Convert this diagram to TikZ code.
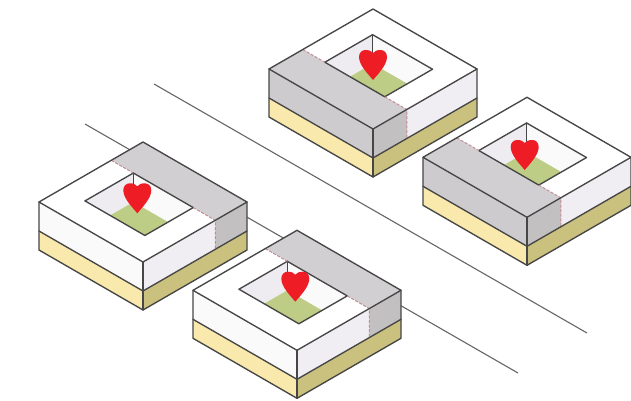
\documentclass[tikz,border=0pt]{standalone}
\definecolor{edgec}{HTML}{464646}
\definecolor{roadc}{HTML}{666666}
\definecolor{graytop}{HTML}{D2CFD2}
\definecolor{grayleft}{HTML}{CDCBCE}
\definecolor{grayright}{HTML}{C3C0C2}
\definecolor{whiteleft}{HTML}{FBFAFB}
\definecolor{whiteright}{HTML}{F0EEF2}
\definecolor{baseleft}{HTML}{F9E9AC}
\definecolor{baseright}{HTML}{CBC17F}
\definecolor{floorc}{HTML}{BDCD85}
\definecolor{wallback}{HTML}{EEECF1}
\definecolor{heartc}{HTML}{EE1C25}
\definecolor{dashc}{HTML}{C58C92}
\tikzset{
  edge/.style={draw=edgec,line width=1.35pt,line join=round,line cap=round},
  road/.style={draw=roadc,line width=1.1pt},
  seam/.style={draw=dashc,line width=1pt,dash pattern=on 3pt off 1.6pt},
  isoframe/.style={x={(104pt,-60pt)},y={(-104pt,-60pt)},z={(0pt,1pt)}}
}
% #1,#2 top corner; #3,#4 gray band v-range; #5 seam v; #6,#7 hole v-range; #8,#9 heart tip
\newcommand{\isoblock}[9]{%
\begin{scope}[shift={(#1pt,-#2pt)},isoframe]
  % base
  \fill[baseleft] (0,1,-29) -- (1,1,-29) -- (1,1,-48) -- (0,1,-48) -- cycle;
  \fill[baseright] (1,1,-29) -- (1,0,-29) -- (1,0,-48) -- (1,1,-48) -- cycle;
  % body faces
  \fill[whiteleft] (0,1,0) -- (1,1,0) -- (1,1,-29) -- (0,1,-29) -- cycle;
  \fill[whiteright] (1,1,0) -- (1,0,0) -- (1,0,-29) -- (1,1,-29) -- cycle;
  % top
  \fill[white] (0,0,0) -- (1,0,0) -- (1,1,0) -- (0,1,0) -- cycle;
  % gray band
  \fill[graytop] (0,#3,0) -- (1,#3,0) -- (1,#4,0) -- (0,#4,0) -- cycle;
  \fill[grayright] (1,#3,0) -- (1,#4,0) -- (1,#4,-29) -- (1,#3,-29) -- cycle;
  \ifdim #4pt>0.9pt
    \fill[grayleft] (0,1,0) -- (1,1,0) -- (1,1,-29) -- (0,1,-29) -- cycle;
  \fi
  % hole
  \fill[whiteleft] (0.212,#6,0) -- (0.788,#6,0) -- (0.788,#7,0) -- (0.212,#7,0) -- cycle;
  \begin{scope}
    \clip (0.212,#6,0) -- (0.788,#6,0) -- (0.788,#7,0) -- (0.212,#7,0) -- cycle;
    \fill[wallback] (0.212,#6,0) -- (0.212,#7,0) -- (0.212,#7,-29) -- (0.212,#6,-29) -- cycle;
    \fill[floorc] (0.212,#6,-29) -- (0.788,#6,-29) -- (0.788,#7,-29) -- (0.212,#7,-29) -- cycle;
  \end{scope}
  \path[edge] (0.212,#6,0) -- (0.212,#6,-29);
  \path[edge] (0.788,#6,0) -- (0.212,#6,0) -- (0.212,#7,0);
  \path[edge] (0.212,#7,0) -- (0.788,#7,0) -- (0.788,#6,0);
  % seams
  \path[seam] (0,#5,0) -- (0.212,#5,0);
  \path[seam] (0.788,#5,0) -- (1,#5,0) -- (1,#5,-29);
  % outlines
  \path[edge] (0,0,0) -- (1,0,0) -- (1,1,0) -- (0,1,0) -- cycle;
  \path[edge] (0,1,0) -- (0,1,-48) -- (1,1,-48) -- (1,0,-48) -- (1,0,0);
  \path[edge] (1,1,0) -- (1,1,-48);
  \path[edge] (0,1,-29) -- (1,1,-29) -- (1,0,-29);
\end{scope}
\begin{scope}[shift={(#8pt,-#9pt)},x=1pt,y=1pt]
  \fill[heartc] (0,0)
    .. controls (-5,6) and (-14,15) .. (-14,23)
    .. controls (-14,27.5) and (-11,30) .. (-7.5,30)
    .. controls (-4,30) and (-1.5,29) .. (0,27)
    .. controls (1.5,29) and (4,30) .. (7.5,30)
    .. controls (11,30) and (14,27.5) .. (14,23)
    .. controls (14,15) and (5,6) .. (0,0) -- cycle;
\end{scope}
}
\begin{document}
\begin{tikzpicture}
\useasboundingbox (0pt,-401pt) rectangle (631pt,0pt);
\coordinate (r1a) at (85pt,-124pt);
\coordinate (r1b) at (518pt,-373pt);
\coordinate (r2a) at (154pt,-84pt);
\coordinate (r2b) at (587pt,-333pt);
\path[road] (r1a) -- (r1b);
\path[road] (r2a) -- (r2b);
\isoblock{373}{9}{0.675}{1}{0.675}{0.216}{0.675}{373}{80}
\isoblock{527}{97.3}{0.675}{1}{0.675}{0.216}{0.675}{524.7}{170}
\isoblock{143}{142}{0}{0.305}{0.305}{0.305}{0.77}{137.3}{213.3}
\isoblock{297}{230.3}{0}{0.305}{0.305}{0.305}{0.77}{295.3}{301.7}
\end{tikzpicture}
\end{document}
